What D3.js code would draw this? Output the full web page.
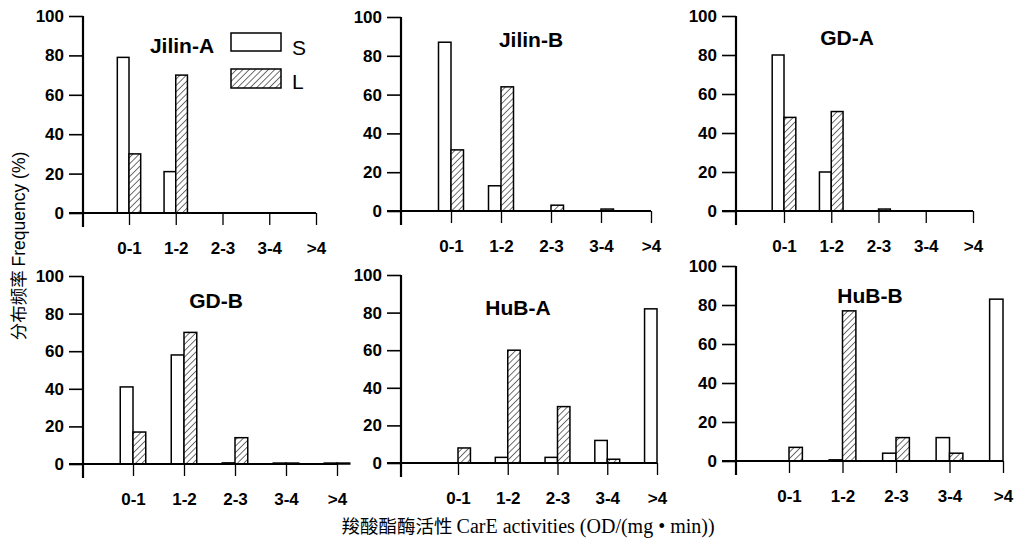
<!DOCTYPE html>
<html>
<head>
<meta charset="utf-8">
<script src="https://cdn.jsdelivr.net/npm/d3@7"></script>
<style>
  body { margin: 0; background: #fff; }
  svg { display: block; }
</style>
</head>
<body>
<div id="chart"></div>
<script>
// categories of CarE activity
var categories = ["0-1", "1-2", "2-3", "3-4", ">4"];
var panelNames = ["Jilin-A", "Jilin-B", "GD-A", "GD-B", "HuB-A", "HuB-B"];
var yTicks = [0, 20, 40, 60, 80, 100];

// frequency (%) per panel, S and L strains
var sValues = [
  [79, 21, 0, 0, 0],
  [87, 13, 0, 0, 0],
  [80, 20, 0, 0, 0],
  [41, 58, 0.6, 0.5, 0.5],
  [0, 3, 3, 12, 82],
  [0, 0.6, 4, 12, 83]
];
var lValues = [
  [30, 70, 0, 0, 0],
  [31.5, 64, 3, 1, 0],
  [48, 51, 1, 0, 0],
  [17, 70, 14, 0.5, 0.5],
  [8, 60, 30, 2, 0],
  [7, 77, 12, 4, 0]
];

// panel frames (axis x, first/last category x, y of 100 and 0, title pos)
var frames = [
  {ax: 83,  x1: 129, x5: 316,  y100: 16,  y0: 213, tx: 182, ty: 53},
  {ax: 401, x1: 451, x5: 651,  y100: 17,  y0: 211, tx: 531, ty: 47},
  {ax: 736, x1: 784, x5: 973,  y100: 16,  y0: 211, tx: 847, ty: 45},
  {ax: 83,  x1: 133, x5: 337,  y100: 276, y0: 464, tx: 216, ty: 308},
  {ax: 401, x1: 458, x5: 657,  y100: 275, y0: 463, tx: 518, ty: 315},
  {ax: 736, x1: 789, x5: 1003, y100: 266, y0: 461, tx: 870, ty: 303}
];

var svg = d3.select("#chart").append("svg")
  .attr("width", 1021)
  .attr("height", 539);

svg.append("rect").attr("width", 1021).attr("height", 539).attr("fill", "#fff");

// hatch for L bars
svg.append("defs").append("pattern")
  .attr("id", "hatch")
  .attr("patternUnits", "userSpaceOnUse")
  .attr("width", 4.5).attr("height", 4.5)
  .attr("patternTransform", "rotate(45)")
  .call(function(p){
    p.append("rect").attr("width", 4.5).attr("height", 4.5).attr("fill", "#fff");
    p.append("line").attr("x1", 0).attr("y1", 0).attr("x2", 0).attr("y2", 4.5)
      .attr("stroke", "#111").attr("stroke-width", 1.2);
  });

var tickFont = "'Liberation Sans', Arial, sans-serif";

frames.forEach(function(f, i){
  var g = svg.append("g");

  var x = d3.scalePoint().domain(categories).range([f.x1, f.x5]);
  var step = (f.x5 - f.x1) / 4;
  var bw = step * 0.25;
  var y = d3.scaleLinear().domain([0, 100]).range([f.y0, f.y100]);

  // y axis
  var yAxisG = g.append("g")
    .attr("transform", "translate(" + f.ax + ",0)")
    .call(d3.axisLeft(y).tickValues(yTicks).tickSize(14).tickPadding(5));
  yAxisG.select(".domain").remove();
  yAxisG.selectAll(".tick line").attr("stroke", "#000").attr("stroke-width", 1.6);
  yAxisG.selectAll(".tick text")
    .attr("font-family", tickFont).attr("font-weight", "bold")
    .attr("font-size", "17px").attr("fill", "#000");

  // x axis
  var xAxisG = g.append("g")
    .attr("transform", "translate(0," + f.y0 + ")")
    .call(d3.axisBottom(x).tickSize(12).tickPadding(17));
  xAxisG.select(".domain").remove();
  xAxisG.selectAll(".tick line").attr("stroke", "#000").attr("stroke-width", 1.3);
  xAxisG.selectAll(".tick text")
    .attr("font-family", tickFont).attr("font-weight", "bold")
    .attr("font-size", "17px").attr("fill", "#000");

  // bars
  var rows = categories.map(function(c, k){
    return {cat: c, s: sValues[i][k], l: lValues[i][k]};
  });
  g.selectAll(".sbar").data(rows.filter(function(d){ return d.s > 0; }))
    .enter().append("rect")
      .attr("x", function(d){ return x(d.cat) - bw; })
      .attr("y", function(d){ return y(d.s); })
      .attr("width", bw)
      .attr("height", function(d){ return y(0) - y(d.s); })
      .attr("fill", "#fff").attr("stroke", "#000").attr("stroke-width", 1.5);
  g.selectAll(".lbar").data(rows.filter(function(d){ return d.l > 0; }))
    .enter().append("rect")
      .attr("x", function(d){ return x(d.cat); })
      .attr("y", function(d){ return y(d.l); })
      .attr("width", bw)
      .attr("height", function(d){ return y(0) - y(d.l); })
      .attr("fill", "url(#hatch)").attr("stroke", "#000").attr("stroke-width", 1.5);

  // axis lines
  g.append("line")
    .attr("x1", f.ax).attr("x2", f.ax)
    .attr("y1", y(100)).attr("y2", f.y0 + 14)
    .attr("stroke", "#000").attr("stroke-width", 2.2);
  g.append("line")
    .attr("x1", f.ax - 14).attr("x2", f.x5)
    .attr("y1", f.y0).attr("y2", f.y0)
    .attr("stroke", "#000").attr("stroke-width", 2.2);

  // panel title
  g.append("text")
    .attr("x", f.tx).attr("y", f.ty)
    .attr("text-anchor", "middle")
    .attr("font-family", tickFont).attr("font-weight", "bold")
    .attr("font-size", "21px")
    .text(panelNames[i]);
});

// legend in first panel
var leg = svg.append("g");
leg.append("rect").attr("x", 231).attr("y", 33).attr("width", 50).attr("height", 18)
  .attr("fill", "#fff").attr("stroke", "#000").attr("stroke-width", 1.5);
leg.append("rect").attr("x", 231).attr("y", 69).attr("width", 50).attr("height", 19)
  .attr("fill", "url(#hatch)").attr("stroke", "#000").attr("stroke-width", 1.5);
leg.append("text").attr("x", 292).attr("y", 55)
  .attr("font-family", tickFont).attr("font-size", "21px").text("S");
leg.append("text").attr("x", 292).attr("y", 89)
  .attr("font-family", tickFont).attr("font-size", "21px").text("L");

// y axis label
var yl = svg.append("text")
  .attr("transform", "translate(25,246) rotate(-90)")
  .attr("text-anchor", "middle")
  .attr("font-size", "17.5px");
yl.append("tspan").attr("font-family", "'Noto Sans CJK SC', sans-serif").text("分布频率 ");
yl.append("tspan").attr("font-family", tickFont).text("Frequency (%)");

// x axis label
var xl = svg.append("text")
  .attr("x", 528).attr("y", 533)
  .attr("text-anchor", "middle");
xl.append("tspan").attr("font-family", "'Noto Sans CJK SC', sans-serif")
  .attr("font-size", "18.5px").text("羧酸酯酶活性 ");
xl.append("tspan").attr("font-family", "'Liberation Serif', 'Times New Roman', serif")
  .attr("font-size", "20px").text(" CarE activities (OD/(mg • min))");
</script>
</body>
</html>
